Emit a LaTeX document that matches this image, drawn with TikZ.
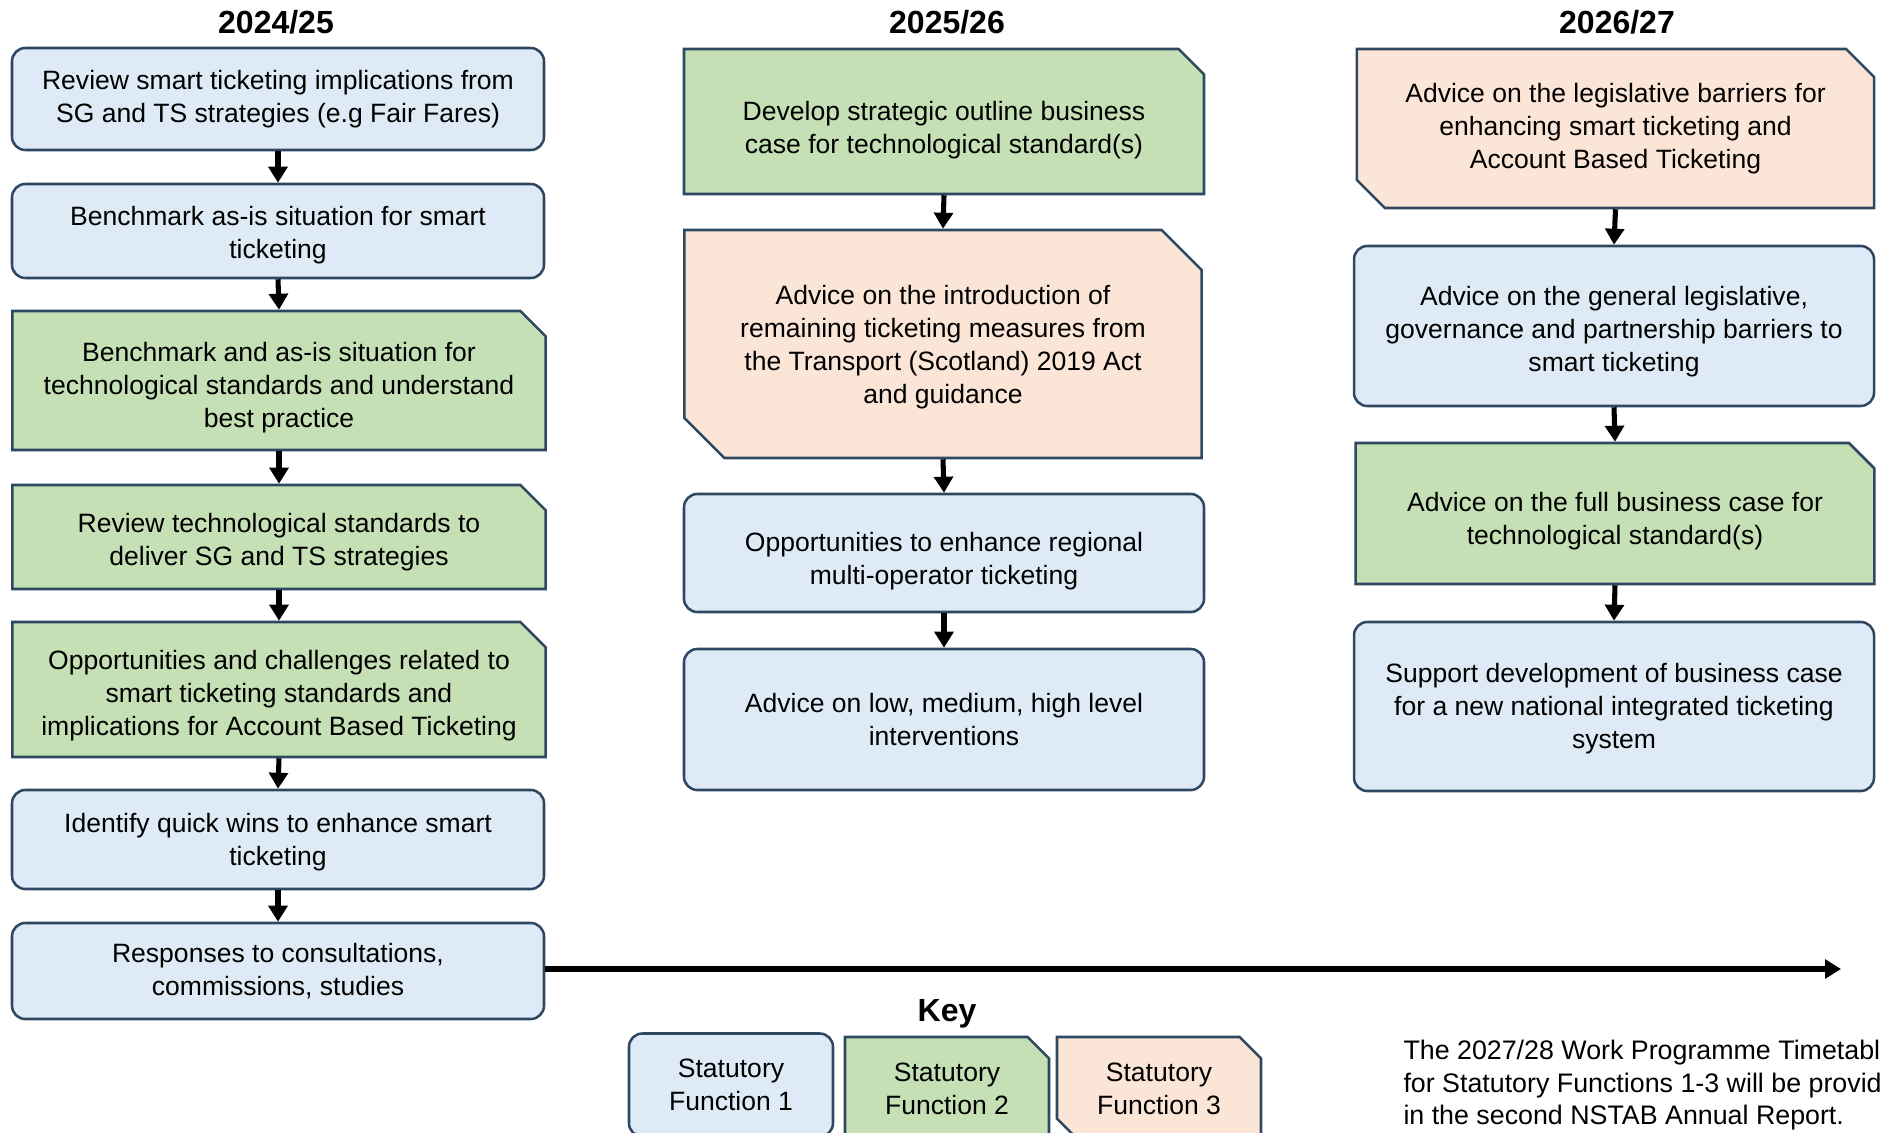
\documentclass[tikz,border=0pt]{standalone}
\usepackage{fontspec}
\setmainfont{Liberation Sans}
\usetikzlibrary{shapes.misc,arrows.meta}

\definecolor{sfblue}{RGB}{222,235,247}
\definecolor{sfgreen}{RGB}{197,224,180}
\definecolor{sforange}{RGB}{251,229,214}
\definecolor{sfline}{RGB}{47,72,98}

\newcommand{\lift}[1]{\rule{0pt}{#1}}

\tikzset{every picture/.style={line width=0.75pt}}
\tikzset{
  boxtext/.style={align=center, inner sep=2pt, font=\fontsize{19.9}{24.75}\selectfont},
  sfone/.style={boxtext, draw=sfline, line width=1.9pt, fill=sfblue, rounded corners=10pt},
  sftwo/.style={boxtext, draw=sfline, line width=1.9pt, fill=sfgreen, chamfered rectangle,
    chamfered rectangle corners=north east, chamfered rectangle sep=9.5pt},
  sfthree/.style={boxtext, draw=sfline, line width=1.9pt, fill=sforange, chamfered rectangle,
    chamfered rectangle corners={north east,south west}, chamfered rectangle sep=10.5pt},
  yearhead/.style={font=\fontsize{24}{28}\selectfont\bfseries},
  flowarrow/.style={line width=3.8pt, -{Triangle[width=14pt,length=12pt]}},
}

\begin{document}
\begin{tikzpicture}[x=0.75pt,y=0.75pt,yscale=-1,xscale=1]
\useasboundingbox (0,0) rectangle (1881,1132);

% Year headings
\node [yearhead] (y1) at (276,22) {2024/25};
\node [yearhead] (y2) at (947,22) {2025/26};
\node [yearhead] (y3) at (1617,22) {2026/27};

%Column 2024/25
\node [sfone, minimum width=399pt, minimum height=76.5pt] (a1) at (278,99) {Review smart ticketing implications from\\SG and TS strategies (e.g Fair Fares)};
\node [sfone, minimum width=399pt, minimum height=70.5pt] (a2) at (278,231) {\lift{19.9pt}Benchmark as-is situation for smart\\ticketing};
\node [sftwo, minimum width=400pt, minimum height=104.25pt] (a3) at (279,380.5) {\lift{24.5pt}Benchmark and as-is situation for\\technological standards and understand\\best practice};
\node [sftwo, minimum width=400pt, minimum height=78pt] (a4) at (279,537) {\lift{22.5pt}Review technological standards to\\deliver SG and TS strategies};
\node [sftwo, minimum width=400pt, minimum height=101.25pt] (a5) at (279,689.5) {\lift{23.5pt}Opportunities and challenges related to\\smart ticketing standards and\\implications for Account Based Ticketing};
\node [sfone, minimum width=399pt, minimum height=74.25pt] (a6) at (278,839.5) {\lift{19pt}Identify quick wins to enhance smart\\ticketing};
\node [sfone, minimum width=399pt, minimum height=72pt] (a7) at (278,971) {Responses to consultations,\\commissions, studies};

%Column 2025/26
\node [sftwo, minimum width=390pt, minimum height=108.75pt] (b1) at (944,121.5) {\lift{28pt}Develop strategic outline business\\case for technological standard(s)};
\node [sfthree, chamfered rectangle sep=15pt, minimum width=388pt, minimum height=171pt] (b2) at (943,344) {\lift{19pt}Advice on the introduction of\\remaining ticketing measures from\\the Transport (Scotland) 2019 Act\\and guidance};
\node [sfone, minimum width=390pt, minimum height=88.5pt] (b3) at (944,553) {\lift{27pt}Opportunities to enhance regional\\multi-operator ticketing};
\node [sfone, minimum width=390pt, minimum height=105.75pt] (b4) at (944,719.5) {Advice on low, medium, high level\\interventions};

%Column 2026/27
\node [sfthree, minimum width=388pt, minimum height=119.25pt] (c1) at (1615.5,128.5) {Advice on the legislative barriers for\\enhancing smart ticketing and\\Account Based Ticketing};
\node [sfone, minimum width=390pt, minimum height=120pt] (c2) at (1614,326) {\lift{23.5pt}Advice on the general legislative,\\governance and partnership barriers to\\smart ticketing};
\node [sftwo, minimum width=389pt, minimum height=105.75pt] (c3) at (1615,513.5) {\lift{26pt}Advice on the full business case for\\technological standard(s)};
\node [sfone, minimum width=390pt, minimum height=126.75pt] (c4) at (1614,706.5) {\lift{18pt}Support development of business case\\for a new national integrated ticketing\\system};

% Connectors
\foreach \s/\t in {a1/a2,a2/a3,a3/a4,a4/a5,a5/a6,a6/a7,b1/b2,b2/b3,b3/b4,c1/c2,c2/c3,c3/c4}
  \draw [flowarrow] (\s.south) -- (\t.north);

% Time line
\coordinate (tlend) at (1841,969);
\draw [flowarrow] (a7.east |- tlend) -- (tlend);

% Key
\node [yearhead] (key) at (947,1014) {Key};
\node [sfone, minimum width=153pt, minimum height=77.25pt] (k1) at (731,1085) {Statutory\\Function 1};
\node [sftwo, chamfered rectangle sep=8pt, minimum width=153pt, minimum height=77.25pt] (k2) at (947,1088.5) {Statutory\\Function 2};
\node [sfthree, chamfered rectangle sep=8pt, minimum width=153pt, minimum height=77.25pt] (k3) at (1159,1088.5) {Statutory\\Function 3};

% Text Node
\node [anchor=north west, align=left, inner sep=0pt, font=\fontsize{20.1}{24.3}\selectfont] (note) at (1403,1040) {The 2027/28 Work Programme Timetable\\for Statutory Functions 1-3 will be provided\\in the second NSTAB Annual Report.};

\end{tikzpicture}
\end{document}
